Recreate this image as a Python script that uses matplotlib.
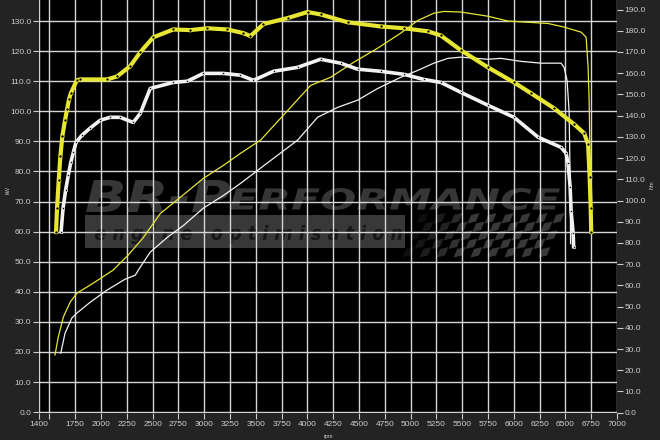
import matplotlib
matplotlib.use('Agg')
import matplotlib.pyplot as plt
import numpy as np
from matplotlib.textpath import TextPath
from matplotlib.patches import PathPatch, Rectangle, Polygon
from matplotlib.font_manager import FontProperties
from matplotlib.transforms import Affine2D

# --- curves (rpm, left-axis value) ---
tq_tuned_rpm = [1565, 1575, 1591, 1607, 1626, 1652, 1672, 1691, 1708, 1766, 1798, 2060, 2157,
                2283, 2380, 2507, 2701, 2866, 3031, 3225, 3380, 3449, 3575, 3808, 4002, 4128,
                4390, 4711, 4934, 5167, 5293, 5487, 5750, 6002, 6167, 6390, 6584, 6682, 6720,
                6735, 6745, 6750]
tq_tuned = [60, 68, 77, 85, 91.7, 97, 100.7, 104, 106, 110.3, 110.6, 110.6, 111.6,
            115, 119.6, 124.6, 127.2, 127, 127.6, 127.2, 126, 125, 129, 131, 133, 132.2,
            129.6, 128.2, 127.6, 126.6, 125.2, 120.3, 114.6, 109.6, 106, 101, 95.7, 92.7, 89,
            78, 68, 60]

tq_stock_rpm = [1614, 1633, 1659, 1684, 1708, 1733, 1759, 1815, 1895, 1992, 2089, 2186, 2313,
                2381, 2478, 2701, 2837, 2992, 3186, 3351, 3478, 3672, 3905, 4128, 4322, 4487,
                4711, 4934, 5128, 5293, 5487, 5750, 6002, 6235, 6458, 6507, 6526, 6546, 6555,
                6575, 6580]
tq_stock = [60, 67.8, 74, 78.8, 83, 86.4, 89.7, 92, 94.4, 97, 98, 98, 96.3,
            99.3, 107.6, 109.6, 110, 112.6, 112.6, 112, 110.3, 113.3, 114.6, 117.3, 116, 114,
            113.3, 112.3, 110.6, 109.6, 106.3, 102, 98, 91.4, 88, 86, 82.7, 74.8, 67,
            59.5, 55]

pw_tuned_rpm = [1555, 1587, 1636, 1701, 1766, 1927, 2118, 2264, 2410, 2575, 2769, 2992, 3186,
                3351, 3546, 3800, 4031, 4225, 4449, 4682, 4905, 5070, 5225, 5322, 5487, 5750,
                5944, 6138, 6332, 6487, 6653, 6701, 6720, 6730, 6749]
pw_tuned = [19, 25, 31.6, 36.5, 39.5, 42.9, 47.2, 52.2, 58, 66, 71.4, 77.7, 82,
            86, 90.4, 99.9, 108.6, 111.3, 116.3, 121, 126, 130.2, 132.6, 133.2, 133, 131.6,
            130, 129.6, 129.2, 128, 126.3, 124.6, 114.6, 103.7, 61]

pw_stock_rpm = [1611, 1652, 1717, 1766, 1895, 2057, 2235, 2332, 2381, 2478, 2640, 2798, 2992,
                3186, 3351, 3600, 3905, 4099, 4293, 4487, 4682, 4905, 5070, 5225, 5361, 5487,
                5750, 5876, 6070, 6264, 6458, 6487, 6516, 6536, 6545, 6550]
pw_stock = [19.6, 26.2, 31.2, 32.9, 36.5, 40.5, 44.2, 45.5, 48.2, 53.2, 58, 62, 67.8,
            72, 76, 82.5, 90.4, 98, 101.3, 103.7, 107.6, 111.3, 113.6, 116, 117.6, 118,
            117.3, 117.6, 116.6, 116, 116, 114.6, 110.3, 100, 80, 56]

x_ticks = [1400, 1500, 1750, 2000, 2250, 2500, 2750, 3000, 3250, 3500, 3750, 4000, 4250,
           4500, 4750, 5000, 5250, 5500, 5750, 6000, 6250, 6500, 6750, 7000]
x_labels = ['' if t == 1500 else str(t) for t in x_ticks]
left_ticks = np.arange(0, 131, 10)
right_ticks = np.arange(0, 191, 10)

W, H = 660, 440
YELLOW = '#e6e633'
WHITE = '#f2f2f2'
TXT = '#cccccc'

plt.rcParams['font.family'] = ['Liberation Sans', 'DejaVu Sans']

fig = plt.figure(figsize=(6.6, 4.4), dpi=100, facecolor='#232323')
ax = fig.add_axes([39 / W, 1 - 413 / H, (617 - 39) / W, 413 / H])
ax.set_facecolor('black')


def logo_text(s, box, color, fp):
    # fit a text path into a pixel box (x0, y0, x1, y1), top-left origin
    x0, y0, x1, y1 = box
    tp = TextPath((0, 0), s, prop=fp, size=10)
    bb = tp.get_extents()
    tr = Affine2D().translate(-bb.x0, -bb.y0).scale((x1 - x0) / W / bb.width,
                                                    (y1 - y0) / H / bb.height)
    tr = tr.translate(x0 / W, 1 - y1 / H)
    ax.add_patch(PathPatch(tr.transform_path(tp), transform=fig.transFigure,
                           fc=color, ec='none', zorder=1))


# watermark
fp_logo = FontProperties(family='DejaVu Sans', weight='bold', style='italic')
logo_text('BR-P', (86, 180, 230, 212), '#363636', fp_logo)
logo_text('ERFORMANCE', (230, 188, 560, 210), '#363636', fp_logo)
ax.add_patch(Rectangle((85 / W, 1 - 248 / H), 320 / W, 33 / H, transform=fig.transFigure,
                       fc='#383838', ec='none', zorder=1))
logo_text('e n g i n e   o p t i m i s a t i o n', (95, 225, 402, 244), '#161616', fp_logo)
cell = 8.5
for i in range(17):
    for j in range(5):
        if (i + j) % 2:
            continue
        px = 420 + i * cell - j * 3.5
        py = 215 + j * cell
        pts = [(px, py), (px + cell, py - 2), (px + cell - 3.5, py + cell - 2), (px - 3.5, py + cell)]
        a = min(1.0, 0.25 + i / 8)
        ax.add_patch(Polygon([(p[0] / W, 1 - p[1] / H) for p in pts], closed=True,
                             transform=fig.transFigure, fc='#383838', ec='none',
                             alpha=a, zorder=1))

# curves
ax.plot(pw_tuned_rpm, pw_tuned, color=YELLOW, lw=0.9, zorder=3)
ax.plot(pw_stock_rpm, pw_stock, color=WHITE, lw=0.9, zorder=3)
ax.plot(tq_stock_rpm, tq_stock, color=WHITE, lw=2.6, marker='s', ms=2.0,
        mfc='black', mec=WHITE, mew=0.5, zorder=4)
ax.plot(tq_tuned_rpm, tq_tuned, color=YELLOW, lw=3.0, marker='o', ms=2.2,
        mfc='black', mec=YELLOW, mew=0.5, zorder=4)

ax.set_xlim(1400, 7000)
ax.set_ylim(-0.3, 137)
ax.set_xticks(x_ticks)
ax.set_xticklabels(x_labels)
ax.set_yticks(left_ticks)
ax.set_yticklabels(['%.1f' % v for v in left_ticks])
ax.grid(True, color='#d5d5d5', lw=1.0)
ax.tick_params(colors=TXT, labelsize=6, length=4, width=0.8, pad=1.5)

ax2 = ax.twinx()
ax2.set_ylim(-0.15, 194.5)
ax2.set_yticks(right_ticks)
ax2.set_yticklabels(['%.1f' % v for v in right_ticks])
ax2.tick_params(colors=TXT, labelsize=6, length=4, width=0.8, pad=1.5)

for a in (ax, ax2):
    for sp in a.spines.values():
        sp.set_visible(False)

fig.text(8 / W, 1 - 190 / H, 'kW', rotation=90, fontsize=4, color=TXT, ha='center', va='center')
fig.text(652 / W, 1 - 185 / H, 'Nm', rotation=90, fontsize=4, color=TXT, ha='center', va='center')
fig.text(328 / W, 1 - 436 / H, 'rpm', fontsize=4, color=TXT, ha='center', va='center')

fig.savefig('out.png', dpi=100, facecolor=fig.get_facecolor())
